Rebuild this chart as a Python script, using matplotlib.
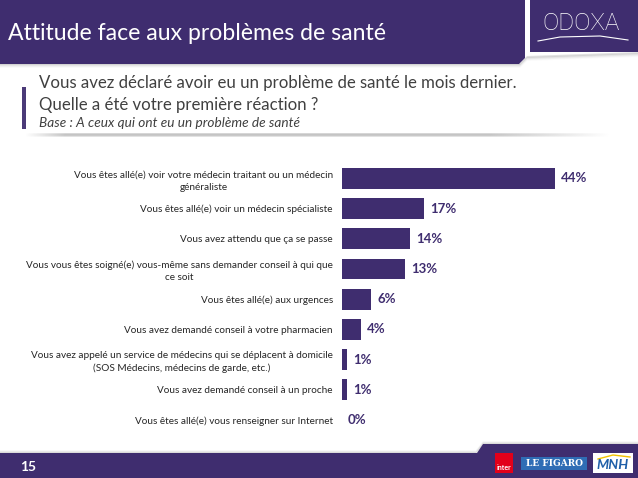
import numpy as np
import matplotlib
matplotlib.use('Agg')
import matplotlib.pyplot as plt
from matplotlib.patches import Polygon, Rectangle

# data
categories = [
    'Vous êtes allé(e) voir votre médecin traitant ou un médecin\ngénéraliste',
    'Vous êtes allé(e) voir un médecin spécialiste',
    'Vous avez attendu que ça se passe',
    'Vous vous êtes soigné(e) vous-même sans demander conseil à qui que\nce soit',
    'Vous êtes allé(e) aux urgences',
    'Vous avez demandé conseil à votre pharmacien',
    'Vous avez appelé un service de médecins qui se déplacent à domicile\n(SOS Médecins, médecins de garde, etc.)',
    'Vous avez demandé conseil à un proche',
    'Vous êtes allé(e) vous renseigner sur Internet',
]
values = [44, 17, 14, 13, 6, 4, 1, 1, 0]
value_labels = ['44%', '17%', '14%', '13%', '6%', '4%', '1%', '1%', '0%']

title = 'Attitude face aux problèmes de santé'
question = ['Vous avez déclaré avoir eu un problème de santé le mois dernier.',
            'Quelle a été votre première réaction ?']
base_note = 'Base : A ceux qui ont eu un problème de santé'
page_number = '15'

PURPLE = '#3f2d6f'
TEXT_DARK = '#262626'
SUB_COLOR = '#404040'
FONT = ['Lato', 'DejaVu Sans']

plt.rcParams['font.family'] = FONT

W, H = 638, 478
fig = plt.figure(figsize=(W / 100, H / 100), dpi=100)
fig.patch.set_facecolor('white')

# background layer in pixel coordinates
bg = fig.add_axes([0, 0, 1, 1])
bg.set_xlim(0, W)
bg.set_ylim(H, 0)
bg.axis('off')

# header band + shadow
for i, a in enumerate([0.25, 0.15, 0.08, 0.04]):
    bg.add_patch(Polygon([(0, 63 + i), (520, 63 + i), (527, 56 + i), (638, 52 + i), (638, 54 + i), (527, 58 + i), (520, 65 + i), (0, 65 + i)],
                         closed=True, color='#888888', alpha=a, lw=0))
bg.add_patch(Polygon([(0, 0), (525, 0), (525, 58), (519, 64), (0, 64)], closed=True, color=PURPLE, lw=0))
bg.add_patch(Rectangle((530, 0), 108, 52, color=PURPLE, lw=0))
bg.text(8, 33, title, color='white', fontsize=16.6, va='center', ha='left')

# ODOXA logo
bg.text(581, 23, 'ODOXA', color='white', fontsize=17.5, va='center', ha='center',
        family=['Roboto', 'DejaVu Sans'], fontweight='light', fontstretch='condensed')
bg.plot([538, 560, 600, 628], [41, 37, 36, 40], color='white', lw=0.8)

# question block
bg.add_patch(Rectangle((22, 87), 4, 42, color='#4b3a78', lw=0))
bg.text(39, 83, question[0], color=SUB_COLOR, fontsize=12.1, va='center', ha='left')
bg.text(39, 105, question[1], color=SUB_COLOR, fontsize=12.1, va='center', ha='left')
bg.text(39, 123, base_note, color=SUB_COLOR, fontsize=9.8, va='center', ha='left', style='italic')

# shadow line under question
grad = np.concatenate([np.linspace(0, 1, 40), np.ones(420), np.linspace(1, 0, 120)])
shade = np.vstack([grad * 0.35, grad * 0.6, grad * 0.25])
rgba = np.zeros(shade.shape + (4,))
rgba[..., :3] = 0.55
rgba[..., 3] = shade
bg.imshow(rgba, extent=(25, 610, 137, 133), aspect='auto', interpolation='bilinear')

# footer band
for i, a in enumerate([0.2, 0.12, 0.06]):
    bg.add_patch(Polygon([(0, 452 - i), (476, 452 - i), (483, 443 - i), (638, 443 - i), (638, 445 - i), (483, 445 - i), (476, 454 - i), (0, 454 - i)],
                         closed=True, color='#888888', alpha=a, lw=0))
bg.add_patch(Polygon([(0, 453), (477, 453), (483, 444), (638, 444), (638, 478), (0, 478)], closed=True, color=PURPLE, lw=0))
bg.text(20, 467, page_number, color='white', fontsize=10, fontweight='bold', va='center', ha='left')

# partner logos
bg.add_patch(Rectangle((495, 453), 18, 20, color='#e2001a', lw=0))
bg.text(504, 467, 'inter', color='white', fontsize=5, fontweight='bold', va='center', ha='center')
bg.add_patch(Rectangle((521, 457), 66, 13, color='#2f6db5', lw=0))
bg.text(554, 463.5, 'LE FIGARO', color='white', fontsize=6.5, fontweight='bold', va='center', ha='center',
        family=['DejaVu Serif'])
bg.add_patch(Rectangle((593, 453), 40, 20, color='white', lw=0))
bg.plot([598, 613, 630], [459, 455, 457], color='#f2c200', lw=1)
bg.text(613, 465, 'MNH', color='#1f5fa8', fontsize=10, fontweight='bold', style='italic', va='center', ha='center')

# bar chart
ax_left, ax_right = 342, 342 + 290.4
row_top, row_bottom = 163.4, 435.1
ax = fig.add_axes([ax_left / W, 1 - row_bottom / H, (ax_right - ax_left) / W, (row_bottom - row_top) / H])
ax.patch.set_alpha(0)
y = np.arange(len(categories))
ax.barh(y, values, height=0.69, color=PURPLE)
ax.set_xlim(0, 60)
ax.set_ylim(len(categories) - 0.5, -0.5)
ax.set_yticks(y)
ax.set_yticklabels(categories, fontsize=7.2, color=TEXT_DARK, multialignment='center', linespacing=1.45)
ax.tick_params(axis='y', length=0, pad=6.5)
ax.set_xticks([])
for s in ax.spines.values():
    s.set_visible(False)

for yi, v, lab in zip(y, values, value_labels):
    ax.annotate(lab, (v, yi), xytext=(4.3, 0), textcoords='offset points',
                va='center', ha='left', fontsize=9.5, fontweight='bold', color=PURPLE)

fig.savefig('out.png', dpi=100)
